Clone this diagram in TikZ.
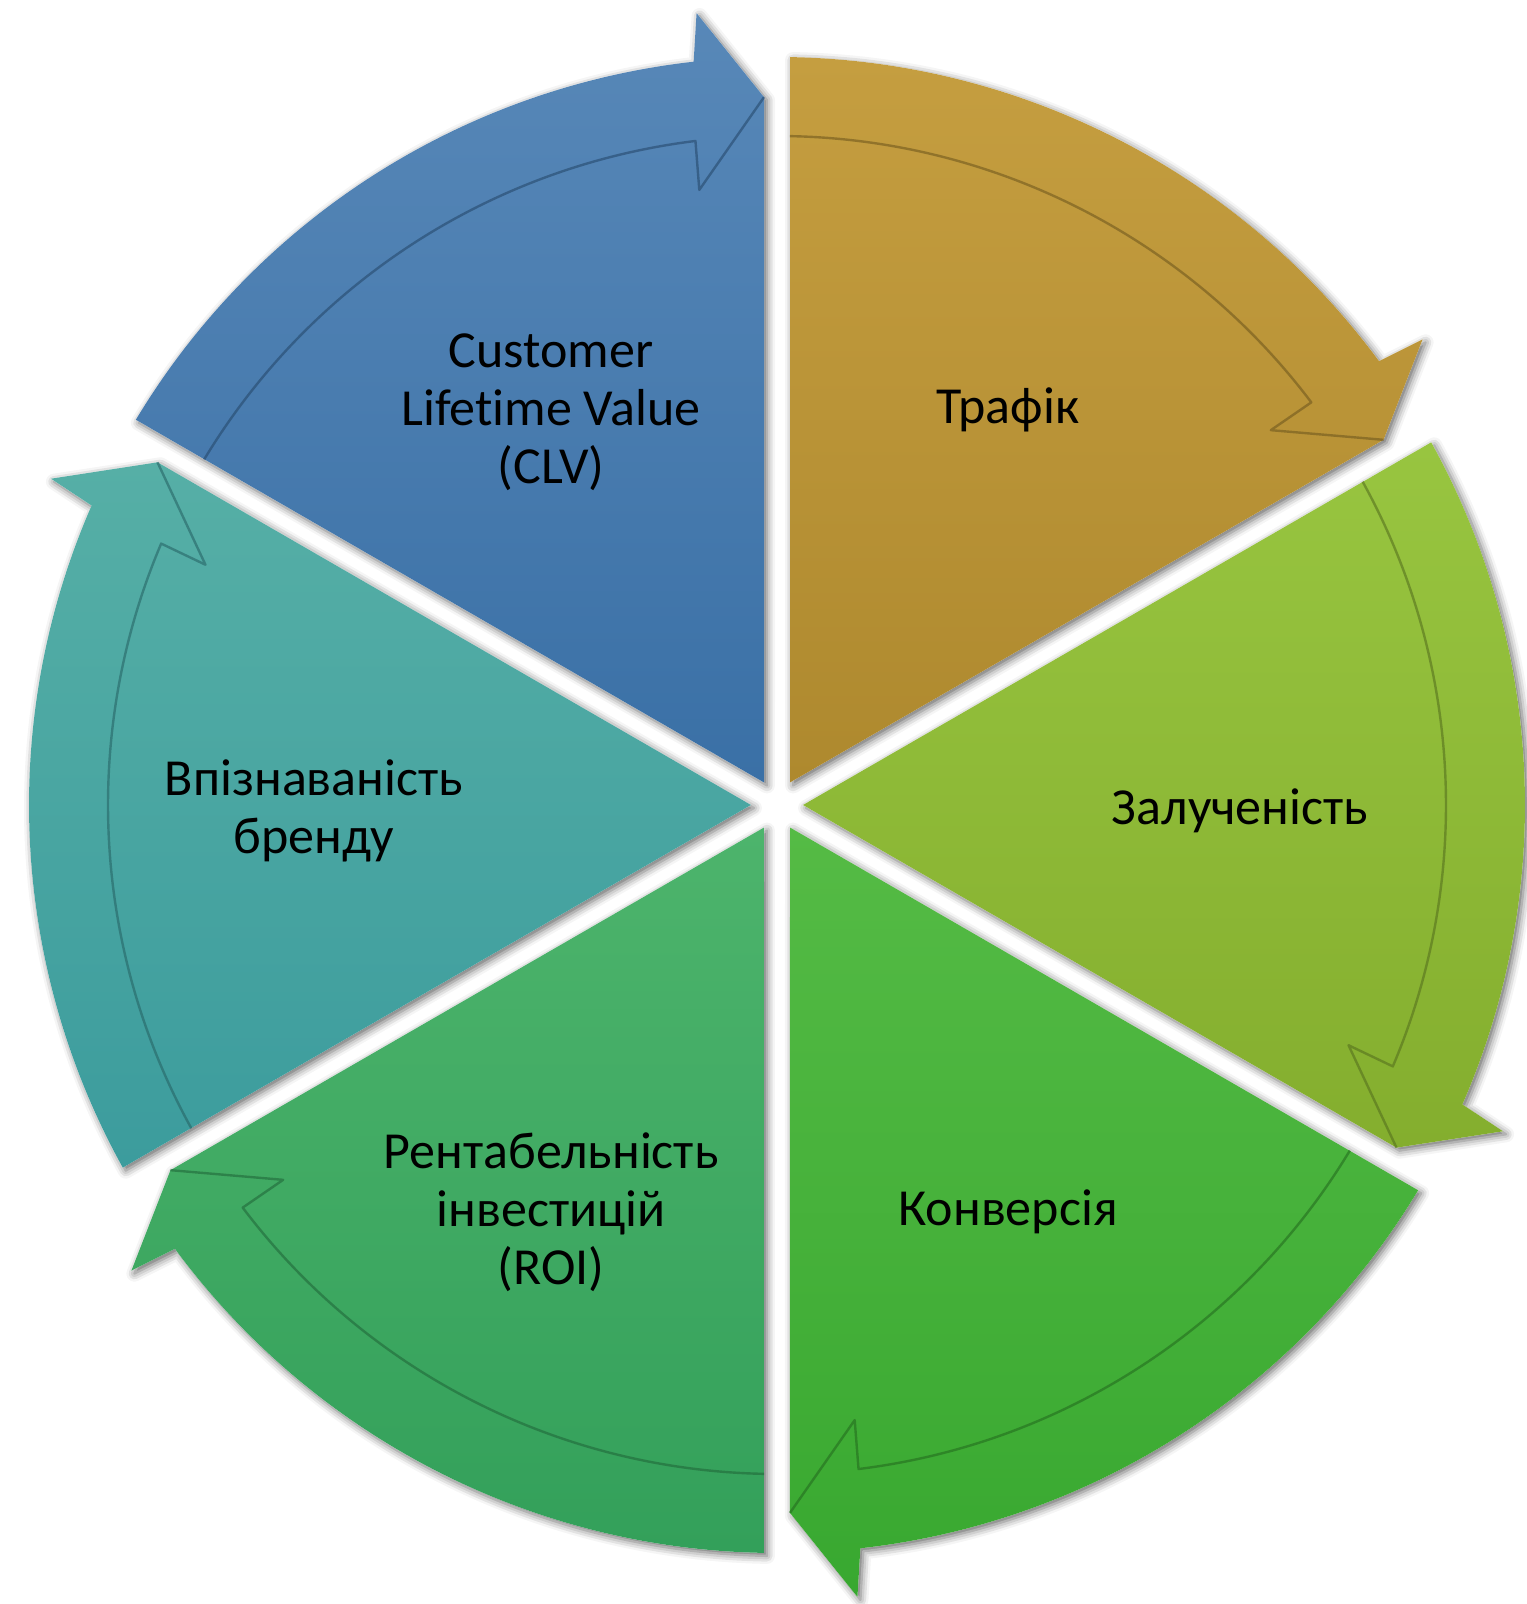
\documentclass[tikz,border=0pt]{standalone}
\usepackage{fontspec}
\setmainfont{Carlito}[Ligatures=NoCommon]
\usetikzlibrary{shadows.blur}
\definecolor{blueT}{HTML}{5888B8}
\definecolor{blueB}{HTML}{3A70A6}
\definecolor{orT}{HTML}{C59E40}
\definecolor{orB}{HTML}{AE892E}
\definecolor{lgT}{HTML}{98C540}
\definecolor{lgB}{HTML}{84AE2E}
\definecolor{gnT}{HTML}{55BB45}
\definecolor{gnB}{HTML}{38A830}
\definecolor{rgT}{HTML}{4DB46C}
\definecolor{rgB}{HTML}{33A05A}
\definecolor{tlT}{HTML}{56AFA6}
\definecolor{tlB}{HTML}{3C9C9D}
\begin{document}
\begin{tikzpicture}[x=0.5pt,y=0.5pt,
  lbl/.style={align=center,font=\fontsize{26}{29}\selectfont,text=black,inner sep=0pt},
  segshadow/.style={blur shadow={shadow xshift=1.5pt,shadow yshift=-1.5pt,shadow blur radius=4pt,shadow opacity=60}},
  segline/.style={line width=1.2pt,draw opacity=0.6,line join=round}]
\useasboundingbox (-777,-799) rectangle (749,805);
% shadows
\foreach \s in {150,90,30,-30,-90,-150}{
  \pgfmathsetmacro{\e}{\s-60}
  \path[segshadow, fill=white] ({\s-30}:26) -- ({\s-1}:748)
    arc[start angle={\s-1}, end angle={\e+6.4}, radius=748]
    -- ({\e+5.8}:796) -- ({\e+1.05}:708) -- cycle;
}
% segments
\foreach \s/\ct/\cb in {150/blueT/blueB, 90/orT/orB, 30/lgT/lgB, -30/gnT/gnB, -90/rgT/rgB, -150/tlT/tlB}{
  \pgfmathsetmacro{\e}{\s-60}
  \path[top color=\ct, bottom color=\cb] ({\s-30}:26) -- ({\s-1}:748)
    arc[start angle={\s-1}, end angle={\e+6.4}, radius=748]
    -- ({\e+5.8}:796) -- ({\e+1.05}:708) -- cycle;
  \draw[segline, draw=\cb!65!black] ({\e+1.05}:708) -- ({\e+7.2}:620) -- ({\e+7}:669)
    arc[start angle={\e+7}, end angle={\s-1.1}, radius=669];
}
% labels
\node[lbl] (clv) at (-226,393) {Customer\\Lifetime Value\\(CLV)};
\node[lbl] (traf) at (231,395) {Трафік};
\node[lbl] (zal) at (463,-6) {Залученість};
\node[lbl] (konv) at (231,-407) {Конверсія};
\node[lbl] (roi) at (-226,-407) {Рентабельність\\інвестицій\\(ROI)};
\node[lbl] (vpiz) at (-463,-6) {Впізнаваність\\бренду};
\end{tikzpicture}
\end{document}
